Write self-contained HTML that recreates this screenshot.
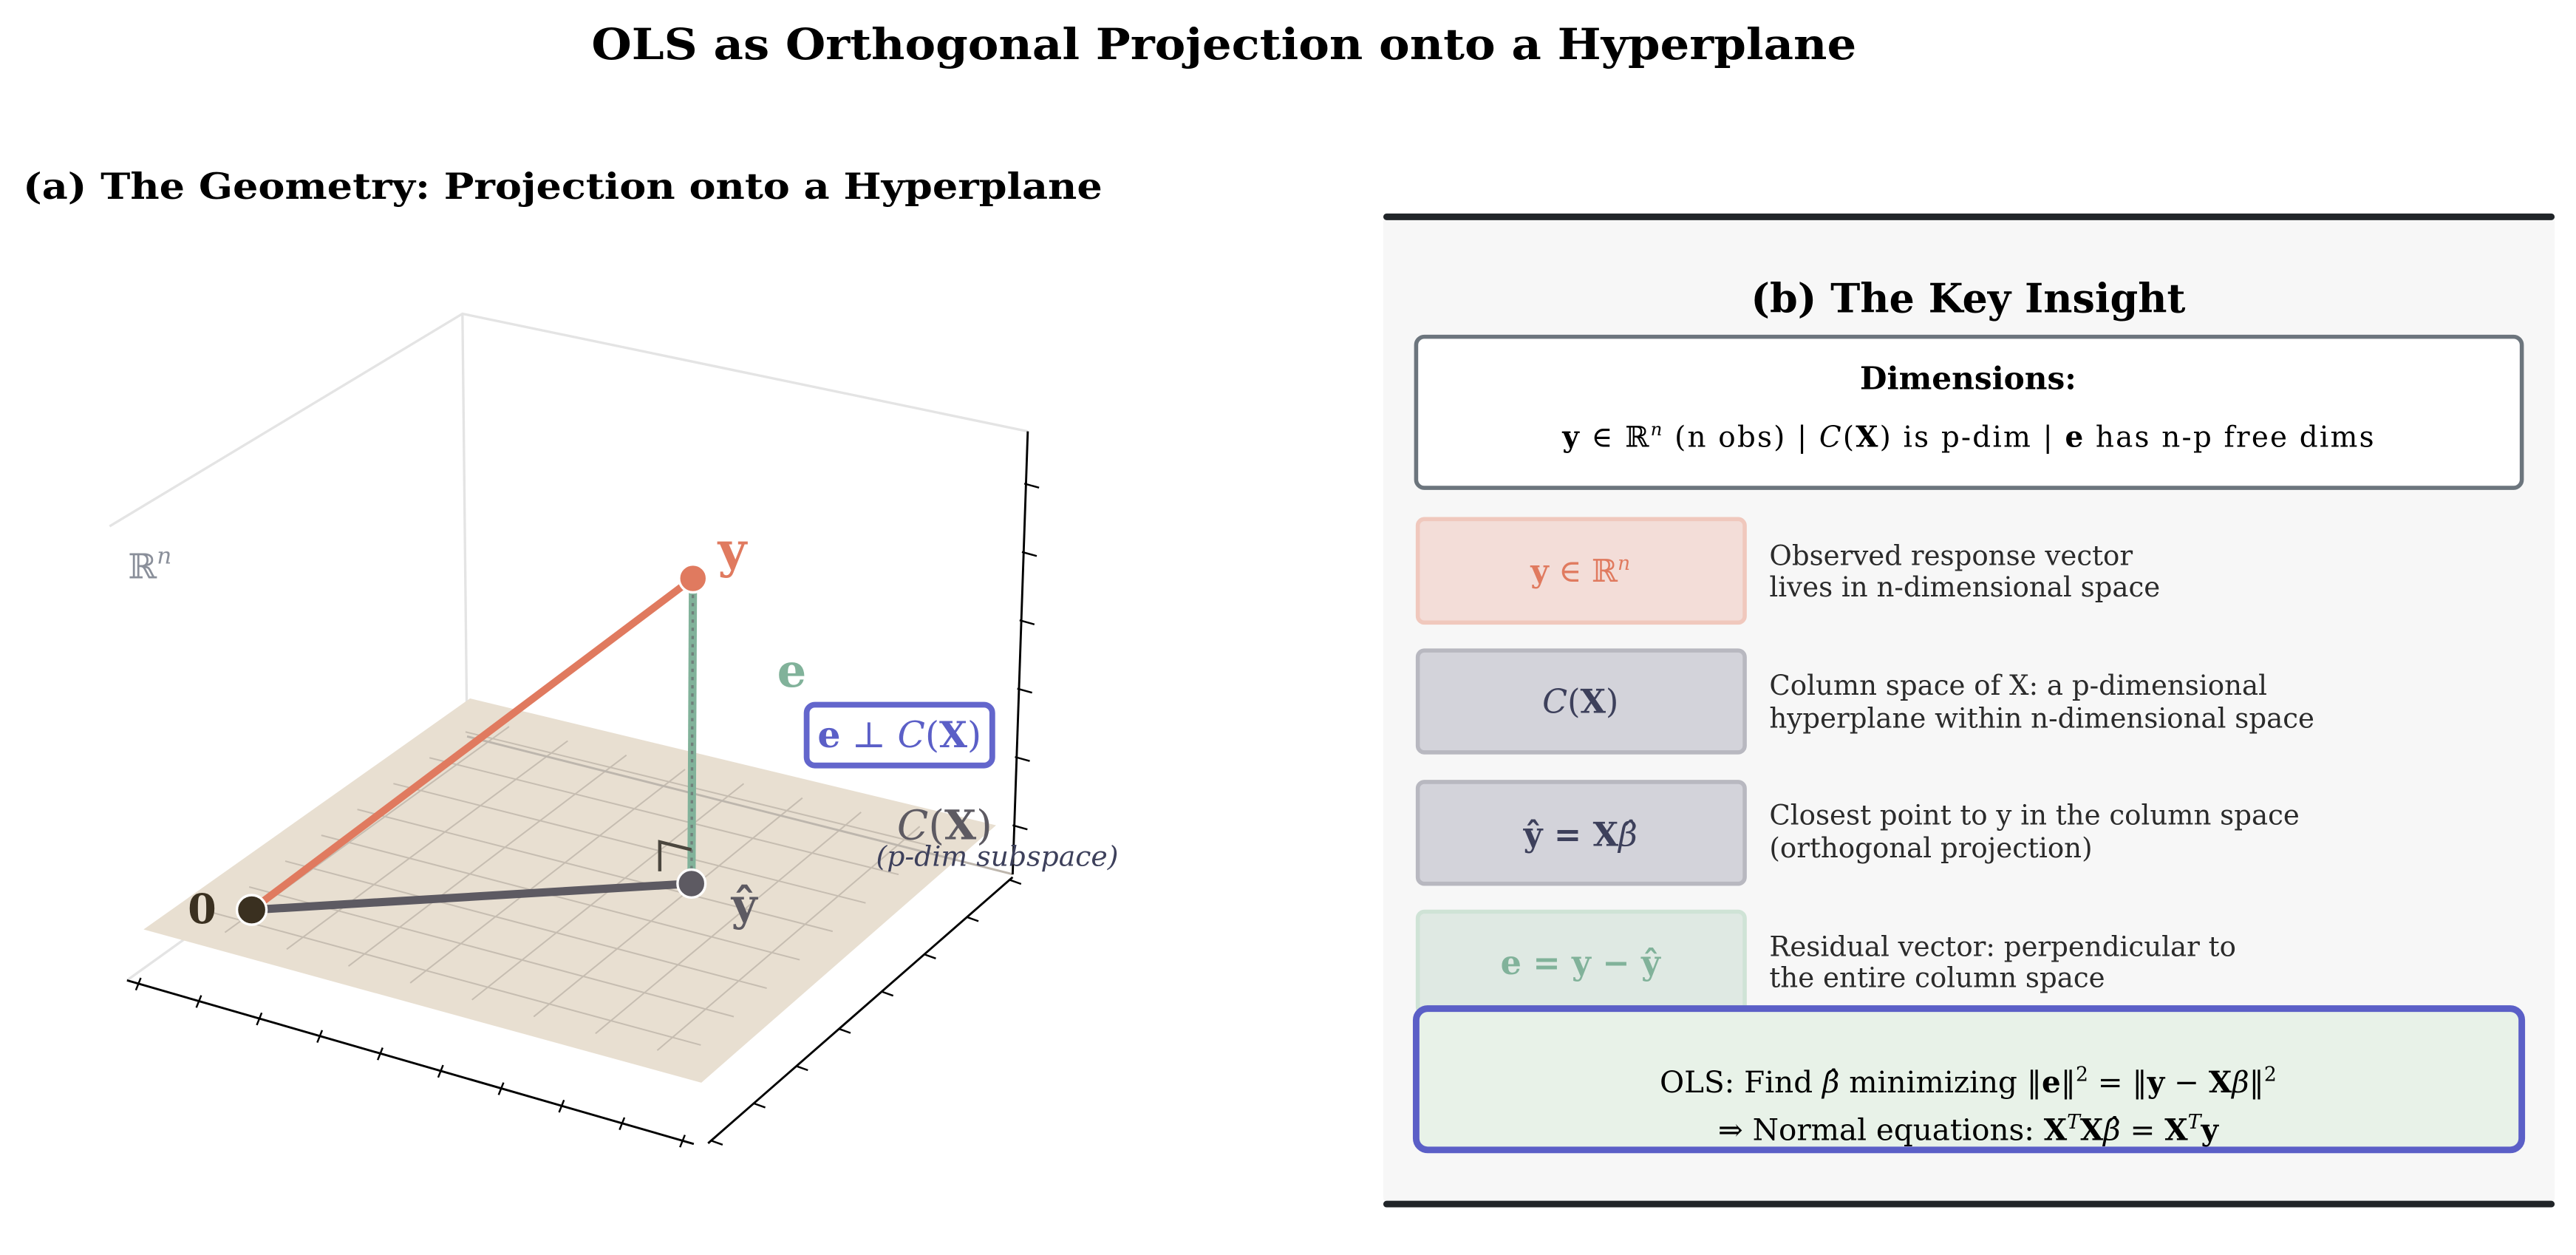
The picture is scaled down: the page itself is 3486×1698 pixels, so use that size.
<!DOCTYPE html>
<html><head><meta charset="utf-8"><style>
html,body{margin:0;padding:0;background:#fff}
svg{display:block}
text{font-family:"DejaVu Serif","Liberation Serif",serif}
</style></head><body>
<svg width="3486" height="1698" viewBox="0 0 1568 764" preserveAspectRatio="none" xmlns="http://www.w3.org/2000/svg">
<rect width="1568" height="764" fill="#fff"/>
<text x="745" y="36" font-size="26" font-weight="bold" text-anchor="middle" textLength="770" lengthAdjust="spacingAndGlyphs">OLS as Orthogonal Projection onto a Hyperplane</text>
<text x="14" y="121" font-size="22" font-weight="bold" textLength="657" lengthAdjust="spacingAndGlyphs">(a) The Geometry: Projection onto a Hyperplane</text>

<g stroke="#e4e4e4" stroke-width="1.5" fill="none">
<polyline points="66.7,320.4 281.5,191 625.6,262.6"/>
<line x1="281.5" y1="191" x2="284.3" y2="448.3"/>
<line x1="77.3" y1="596.8" x2="284.3" y2="448.3"/>
</g>
<polygon points="87.4,565.8 286.1,425.2 606.3,502.4 426.9,659.1" fill="#e8dfd1"/>
<g stroke="#c6bdb1" stroke-width="0.9" id="grid"></g>
<line x1="284.3" y1="448.3" x2="616.4" y2="532.2" stroke="#bdb6ad" stroke-width="1.3"/>
<g stroke="#000" stroke-width="1.3" fill="none">
<line x1="625.6" y1="262.6" x2="616.4" y2="532.3"/>
<line x1="616.4" y1="534" x2="431" y2="696"/>
<line x1="77.3" y1="596.8" x2="422.3" y2="696.4"/>
</g>
<g stroke="#000" stroke-width="1.1" id="ticks"></g>

<line x1="153.2" y1="553.9" x2="421.8" y2="352.1" stroke="#e07a5f" stroke-width="4.5"/>
<line x1="153.2" y1="553.9" x2="420.9" y2="537.9" stroke="#5d5a62" stroke-width="5"/>
<line x1="421.8" y1="352.1" x2="420.9" y2="537.9" stroke="#81b29a" stroke-width="5"/>
<line x1="421.8" y1="352.1" x2="420.9" y2="537.9" stroke="#6f7f7a" stroke-width="1.5" stroke-dasharray="2,3"/>
<polyline points="401.6,530.4 401.6,512.5 420.9,517.3" fill="none" stroke="#4a463e" stroke-width="2"/>
<circle cx="153.2" cy="553.9" r="9" fill="#3a3020" stroke="#fff" stroke-width="1.5"/>
<circle cx="420.9" cy="537.9" r="8.5" fill="#5d5a62" stroke="#fff" stroke-width="1.5"/>
<circle cx="421.8" cy="352.1" r="8.5" fill="#e07a5f" stroke="#fff" stroke-width="1.5"/>

<text x="437" y="345" font-size="30" font-weight="bold" fill="#e07a5f">y</text>
<text x="473" y="418" font-size="28" font-weight="bold" fill="#81b29a">e</text>
<rect x="491" y="429" width="113" height="37" rx="5" fill="#fff" stroke="#6366cc" stroke-width="3.5"/>
<text x="547.5" y="455" font-size="22" fill="#5b5fc7" text-anchor="middle"><tspan font-weight="bold">e</tspan> ⊥ <tspan font-style="italic">C</tspan>(<tspan font-weight="bold">X</tspan>)</text>
<text x="575" y="511" font-size="25" fill="#5d5a62" text-anchor="middle"><tspan font-style="italic">C</tspan>(<tspan font-weight="bold">X</tspan>)</text>
<text x="607" y="527" font-size="17" font-style="italic" fill="#3d405b" text-anchor="middle">(p-dim subspace)</text>
<text x="123" y="562" font-size="25" font-weight="bold" fill="#3a3020" text-anchor="middle">0</text>
<text x="453" y="560" font-size="27" font-weight="bold" fill="#5d5a62" text-anchor="middle">ŷ</text>
<text x="78" y="352" font-size="21" fill="#8a8f9a">ℝ<tspan font-size="14" font-style="italic" dy="-9">n</tspan></text>

<rect x="842" y="131" width="713" height="602" rx="4" fill="#f7f7f7"/>
<line x1="844" y1="132" x2="1553" y2="132" stroke="#212529" stroke-width="4" stroke-linecap="round"/>
<line x1="844" y1="733" x2="1553" y2="733" stroke="#212529" stroke-width="4" stroke-linecap="round"/>
<text x="1198" y="190" font-size="24.3" font-weight="bold" text-anchor="middle">(b) The Key Insight</text>
<rect x="862" y="205" width="673" height="92" rx="5" fill="#fff" stroke="#6c757d" stroke-width="2.5"/>
<text x="1198" y="237" font-size="19" font-weight="bold" text-anchor="middle">Dimensions:</text>
<text x="1198" y="272" font-size="17.5" text-anchor="middle" textLength="494" lengthAdjust="spacing"><tspan font-weight="bold">y</tspan> ∈ ℝ<tspan font-size="11" dy="-7" font-style="italic">n</tspan><tspan dy="7"> (n obs)  |  </tspan><tspan font-style="italic">C</tspan>(<tspan font-weight="bold">X</tspan>) is p-dim  |  <tspan font-weight="bold">e</tspan> has n-p free dims</text>

<rect x="863" y="316" width="199" height="63" rx="4" fill="#f3ddd8" stroke="#f0c8bd" stroke-width="2.5"/>
<text x="962" y="354" font-size="19" fill="#e07a5f" text-anchor="middle"><tspan font-weight="bold">y</tspan> ∈ ℝ<tspan font-size="12" dy="-7" font-style="italic">n</tspan></text>
<rect x="863" y="396" width="199" height="62" rx="4" fill="#d3d3da" stroke="#b8b8c0" stroke-width="2.5"/>
<text x="962" y="434" font-size="20" fill="#3d405b" text-anchor="middle"><tspan font-style="italic">C</tspan>(<tspan font-weight="bold">X</tspan>)</text>
<rect x="863" y="476" width="199" height="62" rx="4" fill="#d3d3da" stroke="#b8b8c0" stroke-width="2.5"/>
<text x="962" y="515" font-size="20" fill="#3d405b" text-anchor="middle" font-weight="bold">ŷ = X<tspan font-style="italic" font-weight="normal">β̂</tspan></text>
<rect x="863" y="555" width="199" height="62" rx="4" fill="#dfe9e3" stroke="#cfe3d6" stroke-width="2.5"/>
<text x="962" y="593" font-size="20" fill="#81b29a" text-anchor="middle" font-weight="bold">e = y − ŷ</text>

<g font-size="16.7" fill="#2b2b2b">
<text x="1077" y="344">Observed response vector</text>
<text x="1077" y="363">lives in n-dimensional space</text>
<text x="1077" y="423">Column space of X: a p-dimensional</text>
<text x="1077" y="443">hyperplane within n-dimensional space</text>
<text x="1077" y="502">Closest point to y in the column space</text>
<text x="1077" y="522">(orthogonal projection)</text>
<text x="1077" y="582">Residual vector: perpendicular to</text>
<text x="1077" y="601">the entire column space</text>
</g>

<rect x="862" y="614" width="673" height="86" rx="7" fill="#e8f2e8" stroke="#5b5fc7" stroke-width="4"/>
<text x="1198" y="665" font-size="18.2" text-anchor="middle">OLS: Find <tspan font-style="italic">β̂</tspan> minimizing ‖<tspan font-weight="bold">e</tspan>‖<tspan font-size="12" dy="-7">2</tspan><tspan dy="7"> = ‖</tspan><tspan font-weight="bold">y</tspan> − <tspan font-weight="bold">X</tspan><tspan font-style="italic">β</tspan>‖<tspan font-size="12" dy="-7">2</tspan></text>
<text x="1198" y="694" font-size="18.2" text-anchor="middle">⇒ Normal equations: <tspan font-weight="bold">X</tspan><tspan font-size="12" dy="-7" font-style="italic">T</tspan><tspan dy="7" font-weight="bold">X</tspan><tspan font-style="italic">β̂</tspan> = <tspan font-weight="bold">X</tspan><tspan font-size="12" dy="-7" font-style="italic">T</tspan><tspan dy="7" font-weight="bold">y</tspan></text>
</svg>
<script>
(function(){
var ns="http://www.w3.org/2000/svg";
function L(g,x1,y1,x2,y2){var l=document.createElementNS(ns,"line");l.setAttribute("x1",x1);l.setAttribute("y1",y1);l.setAttribute("x2",x2);l.setAttribute("y2",y2);g.appendChild(l);}
var g=document.getElementById("grid");
var A=[87.4,565.8],B=[286.1,425.2],C=[606.3,502.4],D=[426.9,659.1];
function lerp(p,q,t){return [p[0]+(q[0]-p[0])*t,p[1]+(q[1]-p[1])*t];}
function bil(u,v){var a=lerp(A,B,u),b=lerp(D,C,u);return lerp(a,b,v);}
for(var i=1;i<=8;i++){var t=i/9;var p=bil(t,0.06),q=bil(t,0.94);L(g,p[0],p[1],q[0],q[1]);
p=bil(0.06,t);q=bil(0.94,t);L(g,p[0],p[1],q[0],q[1]);}
var tk=document.getElementById("ticks");
for(var i=0;i<6;i++){var y=295.4+i*41.6;var x=625.6+(616.4-625.6)*(y-262.6)/(532.3-262.6);L(tk,x-1,y-1,x+8,y+1.5);}
for(var i=0;i<8;i++){var t=0.01+i*0.98/7;var x=616.4+(431-616.4)*t,y=534+(696-534)*t;L(tk,x,y,x+7,y+2.5);}
for(var i=0;i<10;i++){var t=0.02+i*0.96/9;var x=77.3+(422.3-77.3)*t,y=596.8+(696.4-596.8)*t;L(tk,x+1.5,y-3.5,x-1.5,y+4);}
})();
</script>
</body></html>
